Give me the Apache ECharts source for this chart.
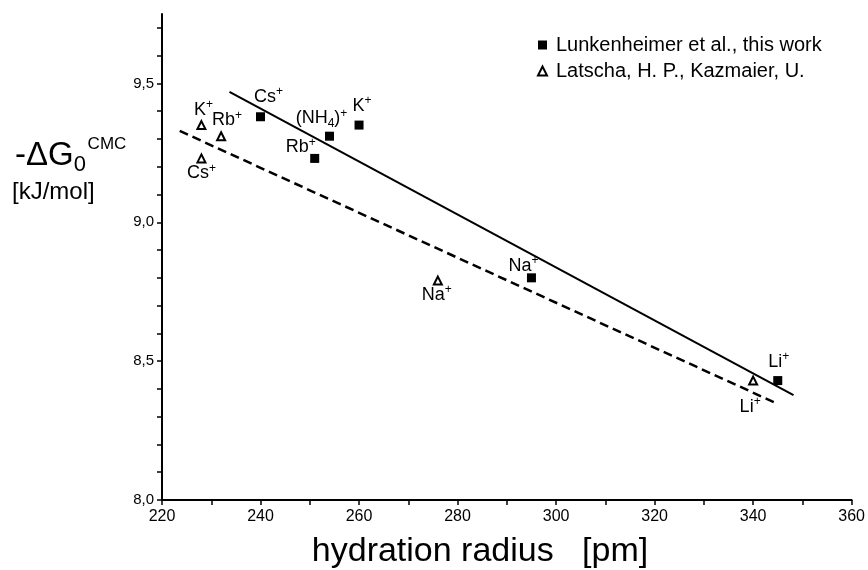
<!DOCTYPE html>
<html><head><meta charset="utf-8">
<script src="https://cdn.jsdelivr.net/npm/echarts@6/dist/echarts.min.js"></script>
<style>html,body{margin:0;padding:0;background:#fff}#c{width:868px;height:570px}</style>
</head><body><div id="c"></div>
<script>
const FONT = '"Liberation Sans", Arial, sans-serif';

// ---- data ----
const lunkName = 'Lunkenheimer et al., this work';
const lunkX = [240, 254, 251, 260, 295, 345];
const lunkY = [9.38, 9.31, 9.23, 9.35, 8.80, 8.43];
const lunkIons = ['Cs', '(NH4)', 'Rb', 'K', 'Na', 'Li'];

const latName = 'Latscha, H. P., Kazmaier, U.';
const latX = [228, 232, 228, 276, 340];
const latY = [9.35, 9.31, 9.23, 8.79, 8.43];
const latIons = ['K', 'Rb', 'Cs', 'Na', 'Li'];

const fitLunkX = [233.7, 348.2];
const fitLunkY = [9.47, 8.378];
const fitLatX = [223.6, 344.5];
const fitLatY = [9.329, 8.35];

const yTickValues = [8.0, 8.1, 8.2, 8.3, 8.4, 8.5, 8.6, 8.7, 8.8, 8.9, 9.0, 9.1, 9.2, 9.3, 9.4, 9.5, 9.6, 9.7];
const yLabelValues = [8.0, 8.5, 9.0, 9.5];
const xMin = 220, xMax = 360, xStep = 20;
const yMin = 8.0, yMax = 9.75;

const xAxisTitle = 'hydration radius   [pm]';
const yAxisTitle = '{a|-ΔG}{sub|0}{gap| }{sup|CMC}';
const yAxisUnit = '[kJ/mol]';

// ---- layout (label offsets, not data) ----
const lunkLabelOffsets = [[8, -20], [-8, -18], [-14, -11], [3, -19], [-8, -12], [1, -19]];
const latLabelOffsets = [[2, -15], [6, -16], [0, 15], [-1, 14], [-3, 26]];

function ionText(ion) {
  if (ion === '(NH4)') return '{b|(NH}{sub|4}{b|)}{sup|+}';
  return '{b|' + ion + '}{sup|+}';
}
const ionRich = {
  b: { fontSize: 18, fontFamily: FONT, color: '#000', lineHeight: 22 },
  sup: { fontSize: 12, fontFamily: FONT, color: '#000', lineHeight: 22, verticalAlign: 'top' },
  sub: { fontSize: 12, fontFamily: FONT, color: '#000', lineHeight: 22, verticalAlign: 'bottom' }
};

function pts(xs, ys, ions, offs) {
  return xs.map((x, i) => ({
    value: [x, ys[i]],
    ion: ions ? ions[i] : null,
    label: offs ? { offset: offs[i] } : undefined
  }));
}

const chart = echarts.init(document.getElementById('c'), null, { renderer: 'canvas' });
chart.setOption({
  animation: false,
  backgroundColor: '#fff',
  textStyle: { fontFamily: FONT, color: '#000' },
  grid: { left: 162, right: 13, top: 14, bottom: 70, containLabel: false },
  legend: {
    data: [lunkName, latName],
    orient: 'vertical',
    left: 532, top: 30,
    itemWidth: 9, itemHeight: 9, itemGap: 6,
    textStyle: { fontSize: 20, color: '#000', fontFamily: FONT, padding: [0, 0, 0, 4] }
  },
  xAxis: {
    type: 'value', min: xMin, max: xMax, interval: xStep,
    axisLine: { show: true, onZero: false, lineStyle: { color: '#000', width: 2 } },
    axisTick: { show: true, length: 5, lineStyle: { color: '#000', width: 1.5 } },
    minorTick: { show: true, splitNumber: 2, length: 5, lineStyle: { color: '#000', width: 1.5 } },
    axisLabel: { fontSize: 16, color: '#000', margin: 9, fontFamily: FONT },
    splitLine: { show: false }, minorSplitLine: { show: false }
  },
  yAxis: {
    type: 'value', min: yMin, max: yMax,
    axisLine: { show: true, onZero: false, lineStyle: { color: '#000', width: 2 } },
    axisTick: { show: true, length: 5, customValues: yTickValues, lineStyle: { color: '#000', width: 1.5 } },
    axisLabel: {
      fontSize: 15, color: '#000', margin: 8, fontFamily: FONT,
      customValues: yLabelValues,
      formatter: v => v.toFixed(1).replace('.', ',')
    },
    splitLine: { show: false }
  },
  graphic: [
    { type: 'text', left: 15, top: 136, style: { text: yAxisTitle, rich: {
        a: { fontSize: 33, fontFamily: FONT, fill: '#000', lineHeight: 40 },
        sub: { fontSize: 22, fontFamily: FONT, fill: '#000', lineHeight: 40, verticalAlign: 'bottom' },
        gap: { fontSize: 6, fontFamily: FONT, fill: '#000', lineHeight: 40 },
        sup: { fontSize: 17, fontFamily: FONT, fill: '#000', lineHeight: 40, verticalAlign: 'top' }
      } } },
    { type: 'text', left: 12, top: 180, style: { text: yAxisUnit, fontSize: 24, fontFamily: FONT, fill: '#000' } },
    { type: 'text', x: 480, y: 552, style: { text: xAxisTitle, fontSize: 34, fontFamily: FONT, fill: '#000', align: 'center', verticalAlign: 'middle' } }
  ],
  series: [
    {
      type: 'line', data: fitLunkX.map((x, i) => [x, fitLunkY[i]]),
      symbol: 'none', silent: true, z: 1,
      lineStyle: { color: '#000', width: 2 }
    },
    {
      type: 'line', data: fitLatX.map((x, i) => [x, fitLatY[i]]),
      symbol: 'none', silent: true, z: 1,
      lineStyle: { color: '#000', width: 2.5, type: [9, 5] }
    },
    {
      name: lunkName, type: 'scatter', symbol: 'rect', symbolSize: 9, z: 3,
      itemStyle: { color: '#000', opacity: 1 },
      data: pts(lunkX, lunkY, lunkIons, lunkLabelOffsets),
      label: { show: true, position: 'inside', color: '#000', formatter: p => ionText(p.data.ion), rich: ionRich }
    },
    {
      name: latName, type: 'scatter', symbol: 'triangle', symbolSize: 8, z: 3,
      itemStyle: { color: '#fff', borderColor: '#000', borderWidth: 2, opacity: 1 },
      data: pts(latX, latY, latIons, latLabelOffsets),
      label: { show: true, position: 'inside', color: '#000', formatter: p => ionText(p.data.ion), rich: ionRich }
    }
  ]
});
</script>
</body></html>
